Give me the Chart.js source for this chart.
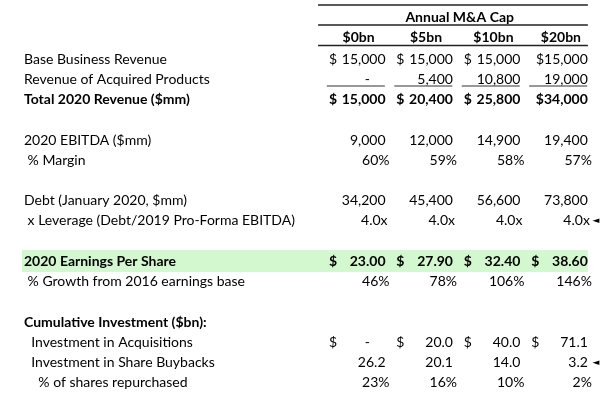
<!DOCTYPE html>
<html>
<head>
<meta charset="utf-8">
<script src="https://cdn.jsdelivr.net/npm/chart.js@4.4.0/dist/chart.umd.min.js"></script>
<style>
html,body{margin:0;padding:0;background:#ffffff;}
canvas{display:block;}
</style>
</head>
<body>
<canvas id="c" width="600" height="405"></canvas>
<script>
// ---------- data ----------
const capTitle = 'Annual M&A Cap';
const scenarios = ['$0bn', '$5bn', '$10bn', '$20bn'];
const rowLabels = [
  '', '',
  'Base Business Revenue',
  'Revenue of Acquired Products',
  'Total 2020 Revenue ($mm)',
  '',
  '2020 EBITDA ($mm)',
  ' % Margin',
  '',
  'Debt (January 2020, $mm)',
  ' x Leverage (Debt/2019 Pro-Forma EBITDA)',
  '',
  '2020 Earnings Per Share',
  ' % Growth from 2016 earnings base',
  '',
  'Cumulative Investment ($bn):',
  '  Investment in Acquisitions',
  '  Investment in Share Buybacks',
  '    % of shares repurchased'
];
const baseRevenue = [15000, 15000, 15000, 15000];
const acquiredRevenue = [0, 5400, 10800, 19000];
const totalRevenue = [15000, 20400, 25800, 34000];
const ebitda = [9000, 12000, 14900, 19400];
const ebitdaMargin = [60, 59, 58, 57];
const debt = [34200, 45400, 56600, 73800];
const leverage = [4.0, 4.0, 4.0, 4.0];
const eps = [23.00, 27.90, 32.40, 38.60];
const epsGrowth = [46, 78, 106, 146];
const acqInvestment = [0, 20.0, 40.0, 71.1];
const buybackInvestment = [26.2, 20.1, 14.0, 3.2];
const sharesRepurchased = [23, 16, 10, 2];
const flaggedRows = [10, 17];

// ---------- style / layout ----------
const FONT = 'Lato';
const FSIZE = 14;
const boldRows = [4, 12, 15];
const BAND_COLOR = '#d3f7cf';
const OFF = { num: -0.03, pct: 0.03, lev: 0.0, dollar: -0.87, dash: -0.3, head: -0.43 };

const tableRows = [
  { row: 2,  values: baseRevenue,       fmt: 'usd', tightLast: true },
  { row: 3,  values: acquiredRevenue,   fmt: 'int', underline: true },
  { row: 4,  values: totalRevenue,      fmt: 'usd', tightLast: true, bold: true },
  { row: 6,  values: ebitda,            fmt: 'int' },
  { row: 7,  values: ebitdaMargin,      fmt: 'pct' },
  { row: 9,  values: debt,              fmt: 'int' },
  { row: 10, values: leverage,          fmt: 'lev' },
  { row: 12, values: eps,               fmt: 'usd2', bold: true },
  { row: 13, values: epsGrowth,         fmt: 'pct' },
  { row: 16, values: acqInvestment,     fmt: 'usd1' },
  { row: 17, values: buybackInvestment, fmt: 'dec1' },
  { row: 18, values: sharesRepurchased, fmt: 'pct' }
];

const comma = v => String(v).replace(/\B(?=(\d{3})+(?!\d))/g, ',');
const font = bold => (bold ? 'bold ' : '') + FSIZE + 'px ' + FONT;

const datasets = tableRows.map(r => ({
  type: 'scatter',
  label: rowLabels[r.row],
  data: r.values.map((v, i) => ({ x: i + 1, y: r.row })),
  values: r.values,
  fmt: r.fmt,
  bold: !!r.bold,
  tightLast: !!r.tightLast,
  underline: !!r.underline,
  pointRadius: 0,
  pointHoverRadius: 0
}));

const tablePlugin = {
  id: 'tableCells',
  beforeDraw(chart) {
    const { ctx, scales: { x, y } } = chart;
    ctx.save();
    ctx.fillStyle = BAND_COLOR;
    const t = y.getPixelForValue(11.44), b = y.getPixelForValue(12.52);
    const l = y.left - 2, r = x.getPixelForValue(3.97);
    ctx.fillRect(l, t, r - l, b - t);
    ctx.restore();
  },
  afterDatasetsDraw(chart) {
    const { ctx, scales: { x, y } } = chart;
    ctx.save();
    ctx.fillStyle = '#000000';
    ctx.textBaseline = 'middle';

    // header rules
    ctx.strokeStyle = '#222222';
    ctx.lineWidth = 1.4;
    [-0.675, 0.314, 1.33].forEach(rv => {
      const py = y.getPixelForValue(rv);
      ctx.beginPath();
      ctx.moveTo(x.getPixelForValue(-0.03), py);
      ctx.lineTo(x.getPixelForValue(3.97), py);
      ctx.stroke();
    });

    // headers
    ctx.font = font(true);
    ctx.textAlign = 'center';
    ctx.fillText(capTitle, x.getPixelForValue(2.07), y.getPixelForValue(-0.05));
    scenarios.forEach((s, i) => {
      ctx.fillText(s, x.getPixelForValue(i + 1 + OFF.head), y.getPixelForValue(0.95));
    });

    // cells
    chart.data.datasets.forEach((ds, di) => {
      const meta = chart.getDatasetMeta(di);
      ctx.font = font(ds.bold);
      meta.data.forEach((el, i) => {
        const k = ds.data[i].x;
        const v = ds.values[i];
        const py = el.y;
        const put = (txt, off, align) => {
          ctx.textAlign = align;
          ctx.fillText(txt, x.getPixelForValue(k + off), py);
        };
        switch (ds.fmt) {
          case 'usd':
            if (ds.tightLast && k === 4) put('$' + comma(v), OFF.num, 'right');
            else { put('$', OFF.dollar, 'left'); put(comma(v), OFF.num, 'right'); }
            break;
          case 'int':
            if (v === 0) put('-', OFF.dash, 'center');
            else put(comma(v), OFF.num, 'right');
            break;
          case 'pct':
            put(v + '%', OFF.pct, 'right');
            break;
          case 'lev':
            put(v.toFixed(1) + 'x', OFF.lev, 'right');
            break;
          case 'usd2':
            put('$', OFF.dollar, 'left');
            put(v.toFixed(2), OFF.num, 'right');
            break;
          case 'usd1':
            put('$', OFF.dollar, 'left');
            if (v === 0) put('-', OFF.dash, 'center');
            else put(v.toFixed(1), OFF.num, 'right');
            break;
          case 'dec1':
            put(v.toFixed(1), OFF.num, 'right');
            break;
        }
        if (ds.underline) {
          const uy = y.getPixelForValue(ds.data[i].y + 0.33);
          ctx.save();
          ctx.strokeStyle = '#333333';
          ctx.lineWidth = 1.2;
          ctx.beginPath();
          ctx.moveTo(x.getPixelForValue(k - 0.9), uy);
          ctx.lineTo(x.getPixelForValue(k - 0.04), uy);
          ctx.stroke();
          ctx.restore();
        }
      });
    });

    // flag markers
    ctx.font = '9px "DejaVu Sans"';
    ctx.textAlign = 'left';
    flaggedRows.forEach(r => {
      ctx.fillText('\u25C4', x.getPixelForValue(4.04), y.getPixelForValue(r));
    });
    ctx.restore();
  }
};

new Chart(document.getElementById('c'), {
  type: 'scatter',
  data: { datasets },
  options: {
    responsive: false,
    animation: false,
    events: [],
    layout: { padding: { left: 24, right: 0, top: 8.5, bottom: 12.1 } },
    plugins: { legend: { display: false }, tooltip: { enabled: false } },
    scales: {
      x: { type: 'linear', min: -0.15, max: 4.15, display: false },
      y: {
        type: 'linear',
        min: -0.5,
        max: 18.5,
        reverse: true,
        grid: { display: false },
        border: { display: false },
        afterBuildTicks: s => { s.ticks = rowLabels.map((_, i) => ({ value: i })); },
        afterFit: s => { s.width = 286; },
        ticks: {
          autoSkip: false,
          padding: 0,
          crossAlign: 'far',
          color: '#000000',
          font: c => ({ family: FONT, size: FSIZE, lineHeight: 1.2, weight: boldRows.includes(c.tick && c.tick.value) ? 'bold' : 'normal' }),
          callback: v => rowLabels[v] !== undefined ? rowLabels[v] : ''
        }
      }
    }
  },
  plugins: [tablePlugin]
});
</script>
</body>
</html>
